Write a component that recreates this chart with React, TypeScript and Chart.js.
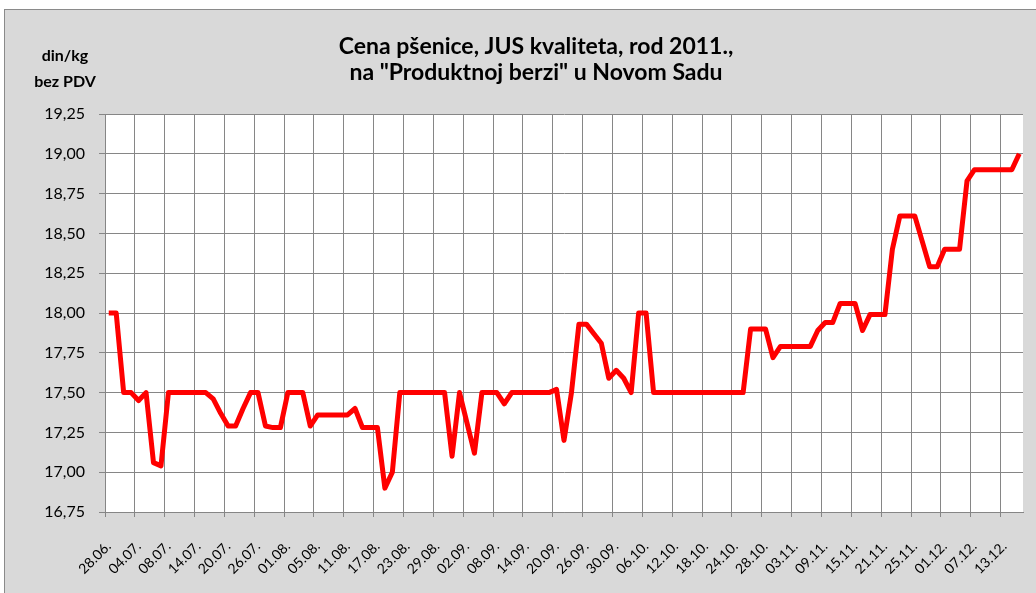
import React, { useEffect, useRef } from 'react';
import { Chart, registerables } from 'chart.js';

Chart.register(...registerables);

// Trading days (categories)
const dates: string[] = [
  '28.06.', '29.06.', '30.06.',
  '01.07.', '04.07.', '05.07.', '06.07.', '07.07.', '08.07.', '11.07.', '12.07.', '13.07.', '14.07.', '15.07.',
  '18.07.', '19.07.', '20.07.', '21.07.', '22.07.', '25.07.', '26.07.', '27.07.', '28.07.', '29.07.',
  '01.08.', '02.08.', '03.08.', '04.08.', '05.08.', '08.08.', '09.08.', '10.08.', '11.08.', '12.08.',
  '15.08.', '16.08.', '17.08.', '18.08.', '19.08.', '22.08.', '23.08.', '24.08.', '25.08.', '26.08.',
  '29.08.', '30.08.', '31.08.',
  '01.09.', '02.09.', '05.09.', '06.09.', '07.09.', '08.09.', '09.09.', '12.09.', '13.09.', '14.09.',
  '15.09.', '16.09.', '19.09.', '20.09.', '21.09.', '22.09.', '23.09.', '26.09.', '27.09.', '28.09.',
  '29.09.', '30.09.',
  '03.10.', '04.10.', '05.10.', '06.10.', '07.10.', '10.10.', '11.10.', '12.10.', '13.10.', '14.10.',
  '17.10.', '18.10.', '19.10.', '20.10.', '21.10.', '24.10.', '25.10.', '26.10.', '27.10.', '28.10.',
  '31.10.',
  '01.11.', '02.11.', '03.11.', '04.11.', '07.11.', '08.11.', '09.11.', '10.11.', '11.11.', '14.11.',
  '15.11.', '16.11.', '17.11.', '18.11.', '21.11.', '22.11.', '23.11.', '24.11.', '25.11.', '28.11.',
  '29.11.', '30.11.',
  '01.12.', '02.12.', '05.12.', '06.12.', '07.12.', '08.12.', '09.12.', '12.12.', '13.12.', '14.12.',
  '15.12.',
];

// Price, din/kg without VAT
const prices: number[] = [
  18.00, 18.00, 17.50, 17.50, 17.45, 17.50, 17.06, 17.04, 17.50, 17.50,
  17.50, 17.50, 17.50, 17.50, 17.46, 17.37, 17.29, 17.29, 17.40, 17.50,
  17.50, 17.29, 17.28, 17.28, 17.50, 17.50, 17.50, 17.29, 17.36, 17.36,
  17.36, 17.36, 17.36, 17.40, 17.28, 17.28, 17.28, 16.90, 17.00, 17.50,
  17.50, 17.50, 17.50, 17.50, 17.50, 17.50, 17.10, 17.50, 17.31, 17.12,
  17.50, 17.50, 17.50, 17.43, 17.50, 17.50, 17.50, 17.50, 17.50, 17.50,
  17.52, 17.20, 17.50, 17.93, 17.93, 17.87, 17.81, 17.59, 17.64, 17.59,
  17.50, 18.00, 18.00, 17.50, 17.50, 17.50, 17.50, 17.50, 17.50, 17.50,
  17.50, 17.50, 17.50, 17.50, 17.50, 17.50, 17.90, 17.90, 17.90, 17.72,
  17.79, 17.79, 17.79, 17.79, 17.79, 17.89, 17.94, 17.94, 18.06, 18.06,
  18.06, 17.89, 17.99, 17.99, 17.99, 18.40, 18.61, 18.61, 18.61, 18.45,
  18.29, 18.29, 18.40, 18.40, 18.40, 18.83, 18.90, 18.90, 18.90, 18.90,
  18.90, 18.90, 19.00,
];

const yMin = 16.75;
const yMax = 19.25;
const yStep = 0.25;
const labelEvery = 4;

const titleLines = ['Cena pšenice, JUS kvaliteta, rod 2011.,', 'na "Produktnoj berzi" u Novom Sadu'];
const unitLines = ['din/kg', 'bez PDV'];

const FONT = 'Lato, "Open Sans", sans-serif';
const GRID = '#868686';

const plotBackground = {
  id: 'plotBackground',
  beforeDraw(chart: any) {
    const { ctx, chartArea } = chart;
    ctx.save();
    ctx.fillStyle = '#ffffff';
    ctx.fillRect(chartArea.left, chartArea.top, chartArea.right - chartArea.left, chartArea.bottom - chartArea.top);
    ctx.restore();
  },
};

// Centre the title the way the spreadsheet does (slightly right of the canvas middle)
const titleShift = {
  id: 'titleShift',
  afterLayout(chart: any) {
    const tb = chart.titleBlock;
    if (tb) {
      tb.left = chart.chartArea.left - 56;
    }
  },
};

const unitLabel = {
  id: 'unitLabel',
  afterDraw(chart: any) {
    const { ctx, chartArea } = chart;
    ctx.save();
    ctx.font = 'bold 16px ' + FONT;
    ctx.fillStyle = '#000000';
    ctx.textAlign = 'center';
    ctx.textBaseline = 'middle';
    unitLines.forEach((t, k) => ctx.fillText(t, chartArea.left - 40, 46 + k * 26));
    ctx.restore();
  },
};

export default function App() {
  const ref = useRef<HTMLCanvasElement>(null);

  useEffect(() => {
    const canvas = ref.current;
    if (!canvas) return;
    const chart = new Chart(canvas, {
      type: 'line',
      data: {
        labels: dates,
        datasets: [
          {
            data: prices,
            borderColor: '#ff0000',
            borderWidth: 5,
            pointRadius: 0,
            tension: 0,
            borderJoinStyle: 'round',
            fill: false,
          },
        ],
      },
      options: {
        responsive: false,
        animation: false,
        layout: { padding: { left: 0, right: 13, top: 0, bottom: 0 } },
        plugins: {
          legend: { display: false },
          tooltip: { enabled: false },
          title: {
            display: true,
            text: titleLines,
            color: '#000000',
            font: { family: FONT, size: 23, weight: 'bold', lineHeight: 26 / 23 },
            padding: { top: 24, bottom: 28 },
          },
        },
        scales: {
          x: {
            offset: true,
            grid: {
              offset: true,
              color: (c: any) => (typeof c.index === 'number' && c.index % labelEvery === 0 ? GRID : 'rgba(0,0,0,0)'),
              lineWidth: 1,
              tickLength: 5,
            },
            border: { color: GRID, width: 1 },
            ticks: {
              autoSkip: false,
              maxRotation: 45,
              minRotation: 45,
              padding: 21,
              color: '#000000',
              font: { family: FONT, size: 14 },
              callback: (_v: any, i: number) => (i % labelEvery === 0 ? dates[i] : ''),
            },
            afterFit: (s: any) => {
              s.height = 81;
              s.paddingLeft = 0;
              s.paddingRight = 0;
            },
          },
          y: {
            min: yMin,
            max: yMax,
            ticks: {
              stepSize: yStep,
              padding: 14,
              color: '#000000',
              font: { family: FONT, size: 16 },
              callback: (v: any) => Number(v).toFixed(2).replace('.', ','),
            },
            grid: { color: GRID, lineWidth: 1, tickLength: 6 },
            border: { color: GRID, width: 1 },
            afterFit: (s: any) => {
              s.width = 100;
            },
          },
        },
      },
      plugins: [plotBackground, titleShift, unitLabel],
    } as any);
    return () => chart.destroy();
  }, []);

  return (
    <div style={{ position: 'relative', width: 1036, height: 593, overflow: 'hidden' }}>
      <style>{'html,body{margin:0;padding:0;overflow:hidden;}'}</style>
      <div
        style={{
          position: 'absolute',
          left: 4,
          top: 9,
          width: 1040,
          height: 600,
          background: '#d9d9d9',
          border: '1px solid #8a8a8a',
        }}
      />
      <canvas ref={ref} width={1031} height={583} style={{ position: 'absolute', left: 5, top: 10 }} />
    </div>
  );
}
